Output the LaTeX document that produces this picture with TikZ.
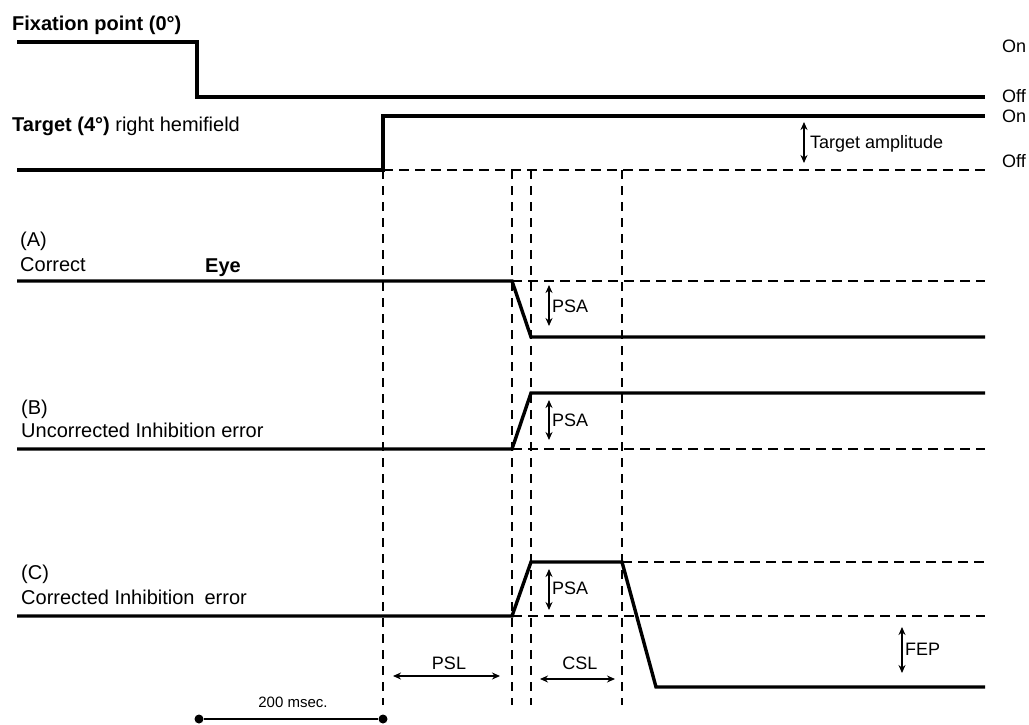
\documentclass[tikz,border=0pt]{standalone}
\usepackage{fontspec}
\setmainfont{Liberation Sans}
\usetikzlibrary{arrows.meta}
\begin{document}
\begin{tikzpicture}[x=1pt,y=-1pt,
  sig/.style={line width=3.4pt,line join=miter,line cap=butt},
  ref/.style={line width=1.8pt,dash pattern=on 10pt off 6pt},
  vref/.style={line width=1.8pt,dash pattern=on 9pt off 7pt},
  dim/.style={line width=1.5pt,{Stealth[length=8pt,width=7pt]}-{Stealth[length=8pt,width=7pt]}},
  lab/.style={anchor=base west,inner sep=0pt,font=\fontsize{20}{22}\selectfont},
  blab/.style={lab,font=\fontsize{20}{22}\selectfont\bfseries},
  ann/.style={anchor=base west,inner sep=0pt,font=\fontsize{18}{20}\selectfont},
  cann/.style={anchor=base,inner sep=0pt,font=\fontsize{18}{20}\selectfont},
  dot/.style={circle,fill=black,inner sep=0pt,minimum size=9pt}]
\useasboundingbox (0,0) rectangle (1029,724);
% ---- labels left
\node[blab] (fixlab) at (12,30) {Fixation point (0°)};
\node[lab] (tarlab) at (12,131) {\textbf{Target (4°)} right hemifield};
\node[lab] (alab) at (20,246) {(A)};
\node[lab] (alab2) at (20,271) {Correct};
\node[blab] (eyelab) at (205,272) {Eye};
\node[lab] (blab1) at (21,414) {(B)};
\node[lab] (blab2) at (21,437) {Uncorrected Inhibition error};
\node[lab] (clab1) at (21,579) {(C)};
\node[lab] (clab2) at (21,604) {Corrected Inhibition\hspace{0.5em}error};
% ---- labels right
\node[ann] (on1) at (1002,52) {On};
\node[ann] (off1) at (1002,102) {Off};
\node[ann] (on2) at (1002,122) {On};
\node[ann] (off2) at (1002,167) {Off};
% fixation
\draw[sig] (17,42) -- (197,42) -- (197,97) -- (985,97);
% target
\draw[sig] (17,170) -- (383,170) -- (383,116) -- (985,116);
\draw[ref] (383,170) -- (985,170);
% vertical dashed lines
\draw[vref] (383,170) -- (383,705);
\draw[vref] (512,170) -- (512,705);
\draw[vref] (531,170) -- (531,705);
\draw[vref] (622,170) -- (622,705);
% (A)
\draw[sig] (17,281) -- (512,281) -- (531,337) -- (985,337);
\draw[ref] (512,281) -- (985,281);
% (B)
\draw[sig] (17,449) -- (512,449) -- (531,393) -- (985,393);
\draw[ref] (512,449) -- (985,449);
% (C)
\draw[sig] (17,616) -- (512,616) -- (531,562) -- (622,562) -- (656,687) -- (985,687);
\draw[ref] (622,562) -- (985,562);
\draw[ref] (512,616) -- (985,616);
% dimension arrows
\coordinate (ta1) at (804,122); \coordinate (ta2) at (804,163);
\draw[dim] (ta1) -- (ta2);
\node[ann] (talab) at (810,148) {Target amplitude};
\coordinate (pa1) at (549,285); \coordinate (pa2) at (549,326);
\draw[dim] (pa1) -- (pa2);
\node[ann] (psaA) at (552,312) {PSA};
\coordinate (pb1) at (549,400); \coordinate (pb2) at (549,440);
\draw[dim] (pb1) -- (pb2);
\node[ann] (psaB) at (552,426) {PSA};
\coordinate (pc1) at (549,569); \coordinate (pc2) at (549,610);
\draw[dim] (pc1) -- (pc2);
\node[ann] (psaC) at (552,594) {PSA};
\coordinate (fe1) at (902,627); \coordinate (fe2) at (902,673);
\draw[dim] (fe1) -- (fe2);
\node[ann] (fep) at (905,655) {FEP};
\coordinate (ps1) at (393,676); \coordinate (ps2) at (500,676);
\draw[dim] (ps1) -- (ps2);
\node[cann] (psl) at (449,669) {PSL};
\coordinate (cs1) at (540,679); \coordinate (cs2) at (615,679);
\draw[dim] (cs1) -- (cs2);
\node[cann] (csl) at (580,669) {CSL};
% scale bar
\node[dot] (s1) at (199,719) {};
\node[dot] (s2) at (383,719) {};
\draw[line width=1.8pt] (s1) -- (s2);
\node[anchor=base,inner sep=0pt,font=\fontsize{15}{17}\selectfont] (msec) at (293,707) {200 msec.};
\end{tikzpicture}
\end{document}
